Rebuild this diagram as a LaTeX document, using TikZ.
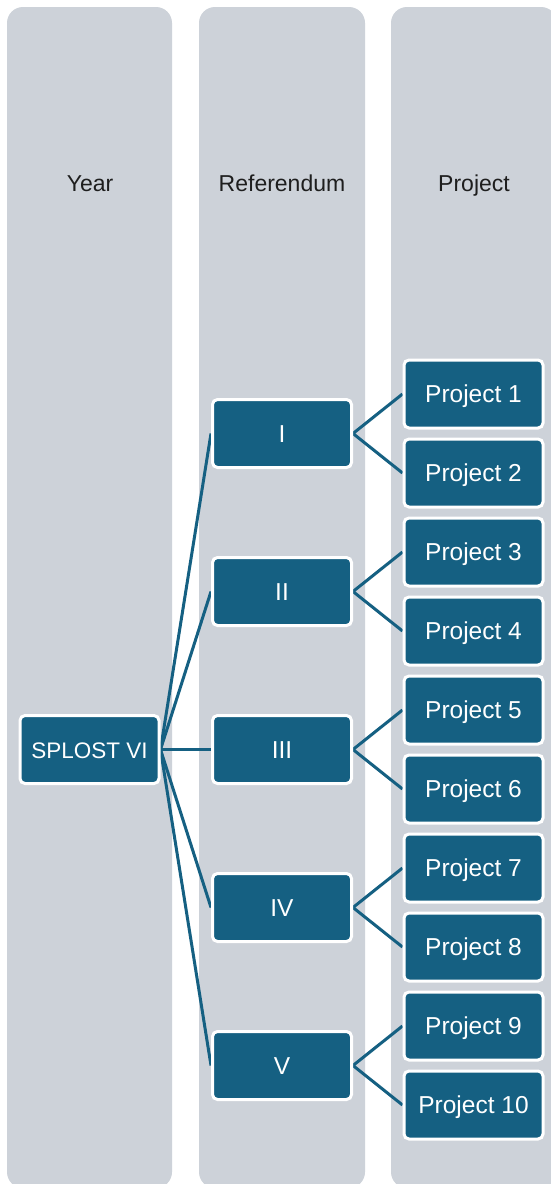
\documentclass[tikz,border=0pt]{standalone}
\usepackage{fontspec}
\setmainfont{Liberation Sans}
\usepackage{tikz}
\usetikzlibrary{backgrounds}
\definecolor{colgray}{RGB}{205,210,217}
\definecolor{boxblue}{RGB}{21,96,130}
\definecolor{headtext}{RGB}{30,30,30}

\begin{document}
\begin{tikzpicture}[x=1pt, y=-1pt,
		box/.style={draw=white, line width=3pt, fill=boxblue, rounded corners=5pt, minimum width=139pt, minimum height=68pt, inner sep=0pt, text height=17pt, text depth=0pt, text=white, font=\fontsize{24.5}{28}\selectfont},
		head/.style={anchor=base, text=headtext, font=\fontsize{23}{27}\selectfont},
		link/.style={line width=3pt, color=boxblue}]
			%%%%% START %%%%%
			
			\useasboundingbox (0, 0) rectangle (551, 1184);
			
			\begin{scope}[on background layer]
				\fill[white] (0, 0) rectangle (551, 1184);
				\fill[colgray, rounded corners=16pt] (7, 7) rectangle (172, 1188);
				\fill[colgray, rounded corners=16pt] (199, 7) rectangle (365, 1188);
				\fill[colgray, rounded corners=16pt] (391, 7) rectangle (557, 1188);
			\end{scope}
			
			\node[head] (year) at (90, 191) {Year};
			\node[head] (referendum) at (282, 191) {Referendum};
			\node[head] (project) at (474, 191) {Project};
			
			\node[box, font=\fontsize{22.5}{27}\selectfont] (splost) at (89.5, 749.5) {SPLOST VI};
			
			\node[box] (refI) at (282, 433.5) {I};
			\node[box] (refII) at (282, 591.5) {II};
			\node[box] (refIII) at (282, 749.5) {III};
			\node[box] (refIV) at (282, 907.5) {IV};
			\node[box] (refV) at (282, 1065.5) {V};
			
			\node[box] (proj1) at (473.5, 394) {Project 1};
			\node[box] (proj2) at (473.5, 473) {Project 2};
			\node[box] (proj3) at (473.5, 552) {Project 3};
			\node[box] (proj4) at (473.5, 631) {Project 4};
			\node[box] (proj5) at (473.5, 710) {Project 5};
			\node[box] (proj6) at (473.5, 789) {Project 6};
			\node[box] (proj7) at (473.5, 868) {Project 7};
			\node[box] (proj8) at (473.5, 947) {Project 8};
			\node[box] (proj9) at (473.5, 1026) {Project 9};
			\node[box] (proj10) at (473.5, 1105) {Project 10};
			
			\begin{scope}[on background layer]
				\draw[link] (splost.east) -- (refI.west);
				\draw[link] (splost.east) -- (refII.west);
				\draw[link] (splost.east) -- (refIII.west);
				\draw[link] (splost.east) -- (refIV.west);
				\draw[link] (splost.east) -- (refV.west);
				
				\draw[link] (proj1.west) -- (refI.east) -- (proj2.west);
				\draw[link] (proj3.west) -- (refII.east) -- (proj4.west);
				\draw[link] (proj5.west) -- (refIII.east) -- (proj6.west);
				\draw[link] (proj7.west) -- (refIV.east) -- (proj8.west);
				\draw[link] (proj9.west) -- (refV.east) -- (proj10.west);
			\end{scope}
			
			%%%%% END %%%%%
\end{tikzpicture}
\end{document}
